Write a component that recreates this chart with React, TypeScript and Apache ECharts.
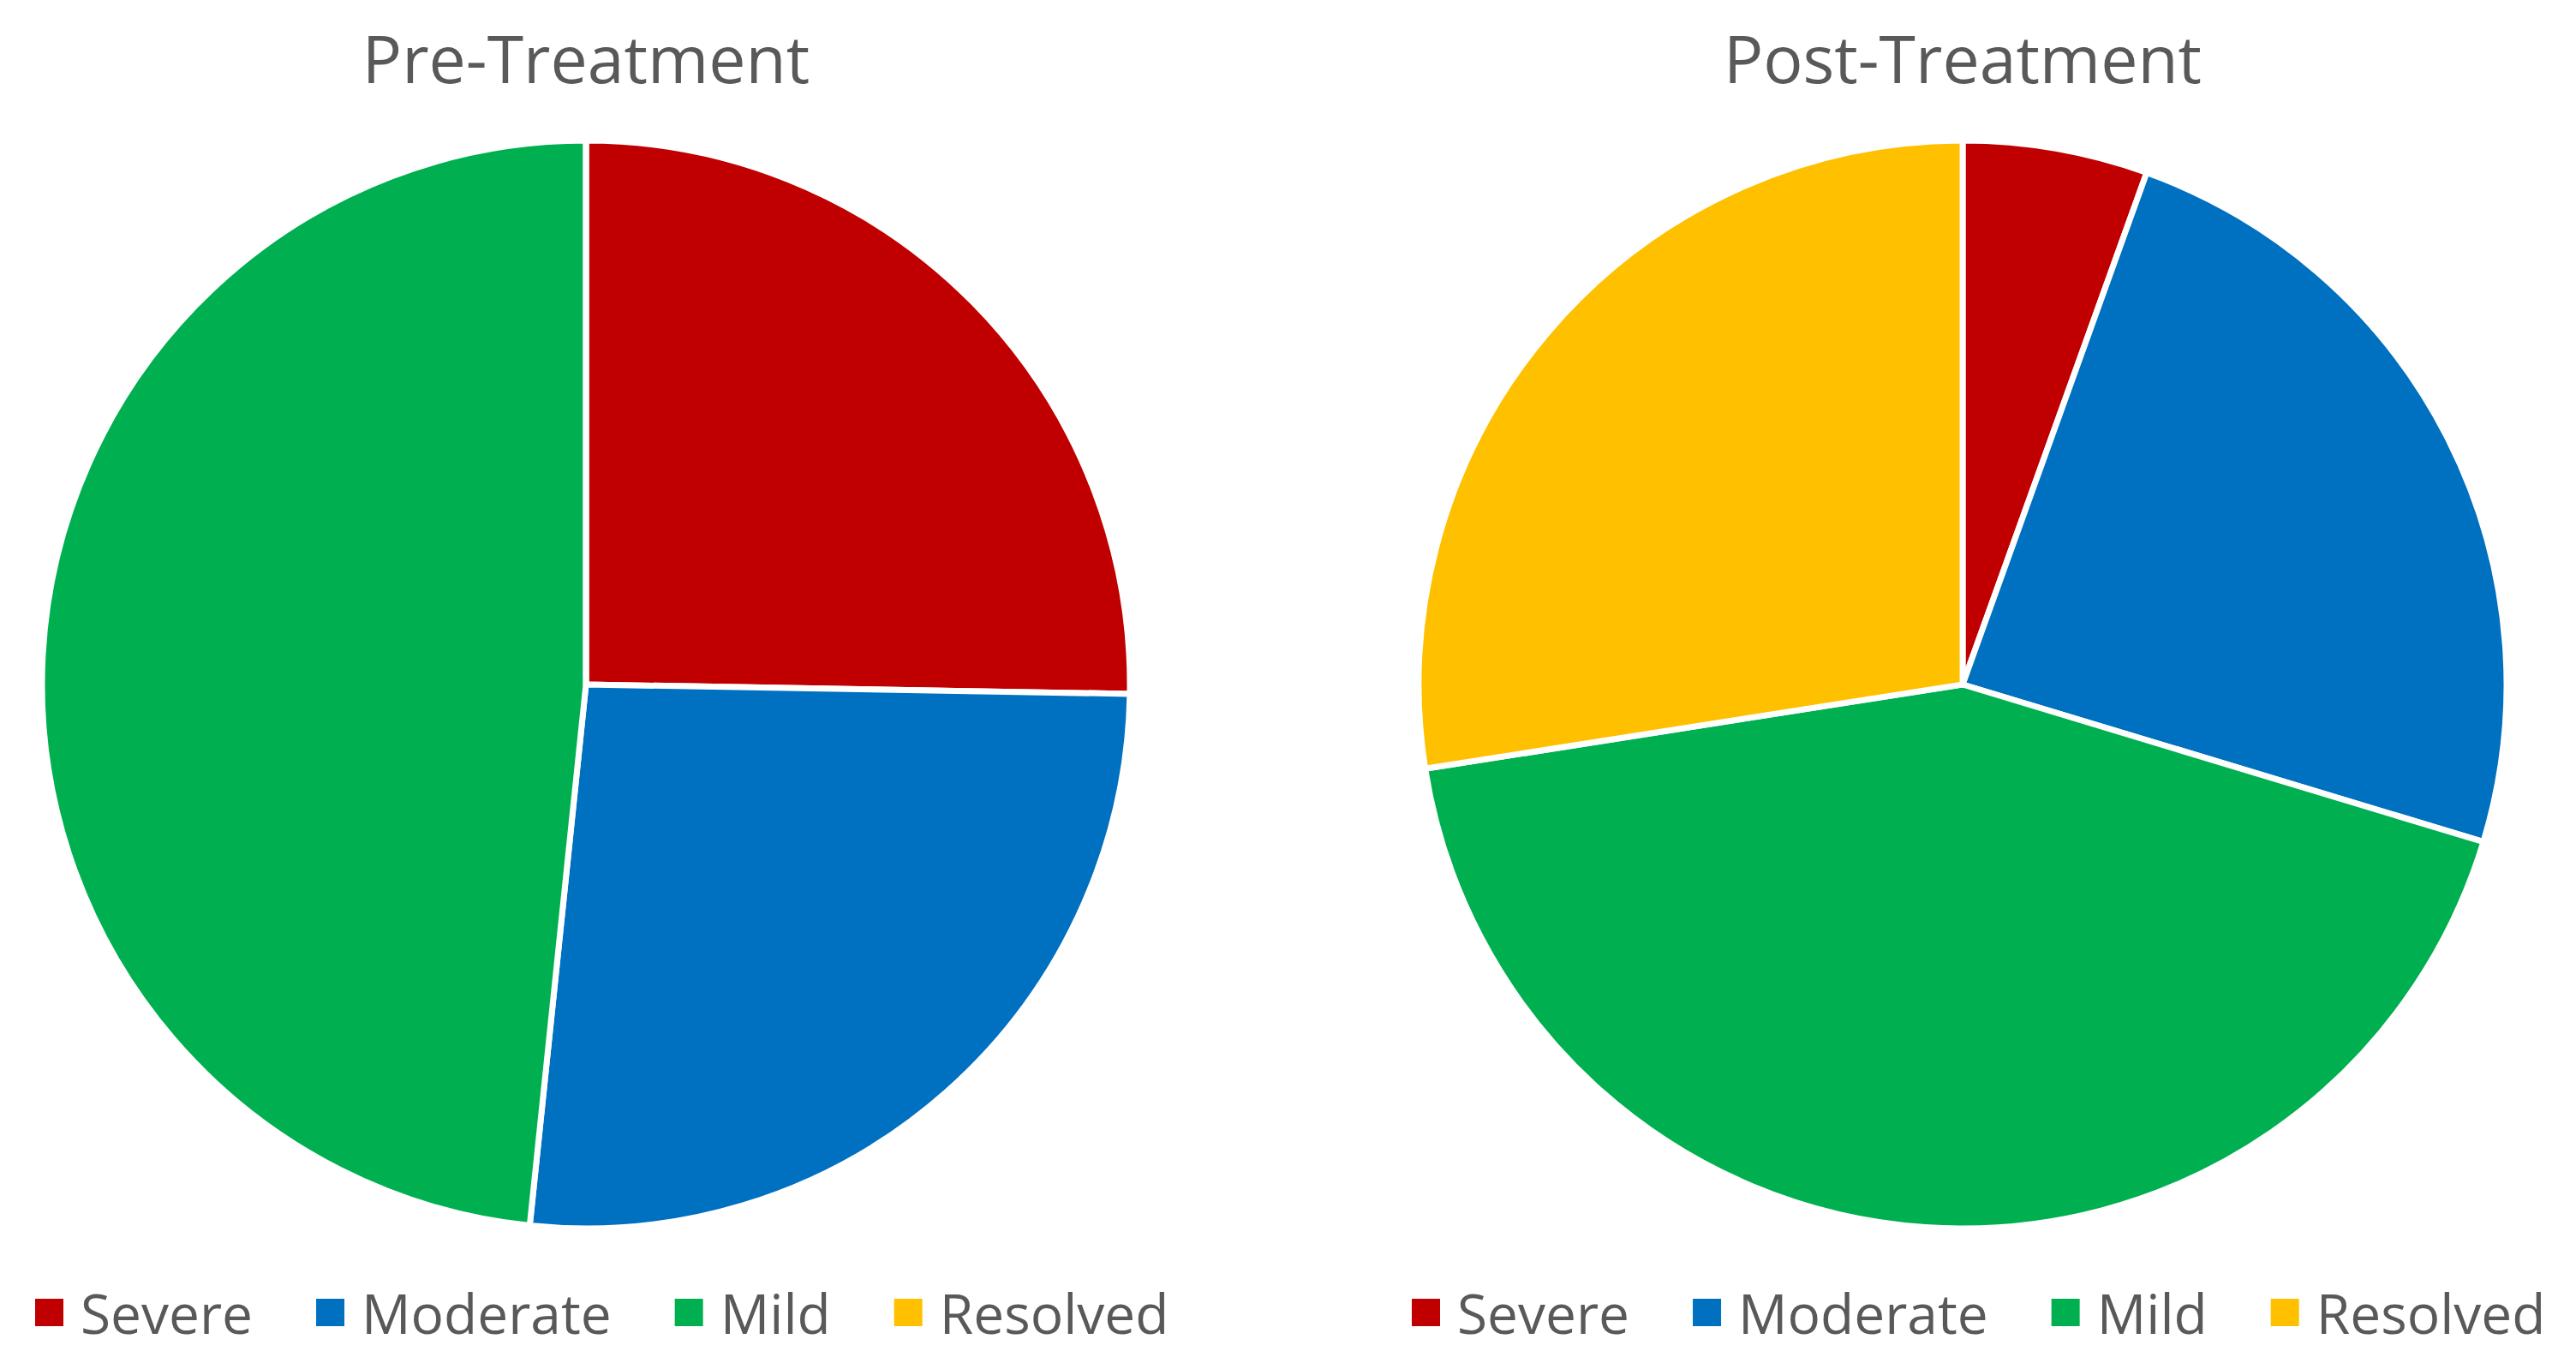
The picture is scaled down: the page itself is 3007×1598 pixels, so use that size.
import React, { useEffect, useRef } from "react";
import * as echarts from "echarts";

const categories = ["Severe", "Moderate", "Mild", "Resolved"];
const preValues = [23, 24, 44, 0];
const postValues = [5, 22, 39, 25];
const chartTitles = ["Pre-Treatment", "Post-Treatment"];
const colors = ["#C00000", "#0070C0", "#00B050", "#FFC000"];

const FONT = "'Open Sans', 'Noto Sans', sans-serif";
const TEXT = "#595959";

export default function App() {
  const ref = useRef<HTMLDivElement>(null);
  useEffect(() => {
    if (!ref.current) return;
    const chart = echarts.init(ref.current, undefined, { renderer: "svg" });
    const centers = [684, 2291];
    const legendLefts = [34, 1641];
    const makeSeries = (vals: number[], i: number) => ({
      type: "pie",
      name: chartTitles[i],
      center: [centers[i], 799],
      radius: 635,
      startAngle: 90,
      clockwise: true,
      label: { show: false },
      labelLine: { show: false },
      emphasis: { disabled: true },
      itemStyle: { borderColor: "#ffffff", borderWidth: 7 },
      data: categories.map((c, k) => ({ name: c, value: vals[k] })),
    });
    chart.setOption({
      animation: false,
      color: colors,
      graphic: chartTitles.map((t, i) => ({
        type: "text",
        x: centers[i],
        y: 67,
        style: {
          text: t,
          fontSize: 77,
          fontFamily: FONT,
          fill: TEXT,
          align: "center",
          verticalAlign: "middle",
        },
      })),
      legend: legendLefts.map((l) => ({
        left: l,
        top: 1495,
        orient: "horizontal",
        icon: "rect",
        itemWidth: 35,
        itemHeight: 34,
        itemGap: 72,
        selectedMode: false,
        data: categories,
        textStyle: {
          fontSize: 64,
          fontFamily: FONT,
          color: TEXT,
          padding: [0, 0, 0, 14],
        },
      })),
      series: [makeSeries(preValues, 0), makeSeries(postValues, 1)],
    });
    return () => chart.dispose();
  }, []);
  return (
    <div
      ref={ref}
      style={{ position: "fixed", left: 0, top: 0, width: 3007, height: 1598, background: "#fff" }}
    />
  );
}
